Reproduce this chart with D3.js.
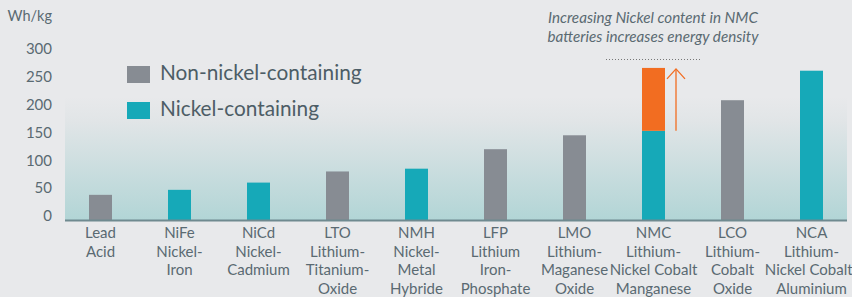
<!DOCTYPE html>
<html>
<head>
<meta charset="utf-8">
<script src="https://cdn.jsdelivr.net/npm/d3@7"></script>
<style>
  body { margin: 0; background: #e8e9eb; }
  text { font-family: Lato, "Open Sans", sans-serif; }
</style>
</head>
<body>
<svg width="852" height="297" id="chart"></svg>
<script>
// ---------- data ----------
var categories = ["Lead Acid", "NiFe", "NiCd", "LTO", "NMH", "LFP", "LMO", "NMC", "LCO", "NCA"];
var labelLines = [
    ["Lead", "Acid"],
    ["NiFe", "Nickel-", "Iron"],
    ["NiCd", "Nickel-", "Cadmium"],
    ["LTO", "Lithium-", "Titanium-", "Oxide"],
    ["NMH", "Nickel-", "Metal", "Hybride"],
    ["LFP", "Lithium", "Iron-", "Phosphate"],
    ["LMO", "Lithium-", "Maganese", "Oxide"],
    ["NMC", "Lithium-", "Nickel Cobalt", "Manganese"],
    ["LCO", "Lithium-", "Cobalt", "Oxide"],
    ["NCA", "Lithium-", "Nickel Cobalt-", "Aluminium"]
];
var energyDensity = [38, 47, 60, 80, 85, 120, 145, 153, 208, 261];
var containsNickel = [false, true, true, false, true, false, false, true, false, true];
var nmcExtra = 266; // top of the orange NMC range
var yTicks = [0, 50, 100, 150, 200, 250, 300];
var legendItems = ["Non-nickel-containing", "Nickel-containing"];
var noteLines = ["Increasing Nickel content in NMC", "batteries increases energy density"];

var grey = "#878c93", teal = "#16a9b8", orange = "#f26d21", textCol = "#5a6a72";

var svg = d3.select("#chart");

var x = d3.scaleBand().domain(categories).range([61, 851]);
var y = d3.scaleLinear().domain([0, 300]).range([216, 49]);
var base = y(0) + 4;
var barW = 23;

// background gradient
var grad = svg.append("defs").append("linearGradient")
    .attr("id", "bg").attr("x1", 0).attr("y1", 0).attr("x2", 0).attr("y2", 1);
grad.append("stop").attr("offset", "0%").attr("stop-color", "#e8e9eb");
grad.append("stop").attr("offset", "20%").attr("stop-color", "#e1e5e7");
grad.append("stop").attr("offset", "100%").attr("stop-color", "#b2d5d6");

svg.append("rect")
    .attr("x", 65).attr("y", y(200) - 8)
    .attr("width", 782).attr("height", base - y(200) + 8)
    .attr("fill", "url(#bg)");

// y axis labels
svg.selectAll("text.ytick")
    .data(yTicks)
    .enter().append("text")
    .attr("class", "ytick")
    .attr("x", 52)
    .attr("y", function(d){ return y(d); })
    .attr("dy", "0.35em")
    .attr("text-anchor", "end")
    .attr("font-size", 15)
    .attr("fill", textCol)
    .text(function(d){ return d; });

svg.append("text")
    .attr("x", 52).attr("y", 21)
    .attr("text-anchor", "end")
    .attr("font-size", 14.5)
    .attr("fill", textCol)
    .text("Wh/kg");

// bars
svg.selectAll("rect.bar")
    .data(categories)
    .enter().append("rect")
    .attr("class", "bar")
    .attr("x", function(d){ return x(d) + x.bandwidth() / 2 - barW / 2; })
    .attr("y", function(d, i){ return y(energyDensity[i]); })
    .attr("width", barW)
    .attr("height", function(d, i){ return base - y(energyDensity[i]); })
    .attr("fill", function(d, i){ return containsNickel[i] ? teal : grey; });

// NMC orange extension
var nmcX = x("NMC") + x.bandwidth() / 2;
svg.append("rect")
    .attr("x", nmcX - barW / 2)
    .attr("y", y(nmcExtra))
    .attr("width", barW)
    .attr("height", y(energyDensity[7]) - y(nmcExtra))
    .attr("fill", orange);

// arrow
var ax = nmcX + 22.5;
svg.append("line")
    .attr("x1", ax).attr("x2", ax)
    .attr("y1", y(energyDensity[7])).attr("y2", y(nmcExtra) + 1)
    .attr("stroke", orange).attr("stroke-width", 1.3);
svg.append("path")
    .attr("d", "M" + (ax - 9) + "," + (y(nmcExtra) + 11) + "L" + ax + "," + (y(nmcExtra) + 1) + "L" + (ax + 9) + "," + (y(nmcExtra) + 11))
    .attr("fill", "none")
    .attr("stroke", orange).attr("stroke-width", 1.3);

// dotted line above
svg.append("line")
    .attr("x1", 606).attr("x2", 702)
    .attr("y1", 59.5).attr("y2", 59.5)
    .attr("stroke", "#777").attr("stroke-width", 1)
    .attr("stroke-dasharray", "1,2");

// annotation text
svg.selectAll("text.note")
    .data(noteLines)
    .enter().append("text")
    .attr("class", "note")
    .attr("x", 653)
    .attr("y", function(d, i){ return 23 + i * 18.5; })
    .attr("text-anchor", "middle")
    .attr("font-size", 15.2)
    .attr("font-style", "italic")
    .attr("fill", textCol)
    .text(function(d){ return d; });

// baseline
svg.append("line")
    .attr("x1", 65).attr("x2", 847)
    .attr("y1", base + 0.5).attr("y2", base + 0.5)
    .attr("stroke", "#6f8a90").attr("stroke-width", 2);

// x labels
var xl = svg.selectAll("text.xlabel")
    .data(categories)
    .enter().append("text")
    .attr("class", "xlabel")
    .attr("text-anchor", "middle")
    .attr("font-size", 15)
    .attr("fill", textCol);

xl.selectAll("tspan")
    .data(function(d, i){ return labelLines[i].map(function(t){ return {t: t, c: d}; }); })
    .enter().append("tspan")
    .attr("x", function(d){ return x(d.c) + x.bandwidth() / 2; })
    .attr("y", function(d, j){ return 238 + j * 18.7; })
    .text(function(d){ return d.t; });

// legend
var leg = svg.selectAll("g.legend")
    .data(legendItems)
    .enter().append("g")
    .attr("class", "legend")
    .attr("transform", function(d, i){ return "translate(127," + (66 + i * 36) + ")"; });

leg.append("rect")
    .attr("width", 23).attr("height", 17)
    .attr("fill", function(d, i){ return i == 0 ? grey : teal; });

leg.append("text")
    .attr("x", 33).attr("y", 13.5)
    .attr("font-size", 20.8)
    .attr("fill", "#4d5d66")
    .text(function(d){ return d; });
</script>
</body>
</html>
